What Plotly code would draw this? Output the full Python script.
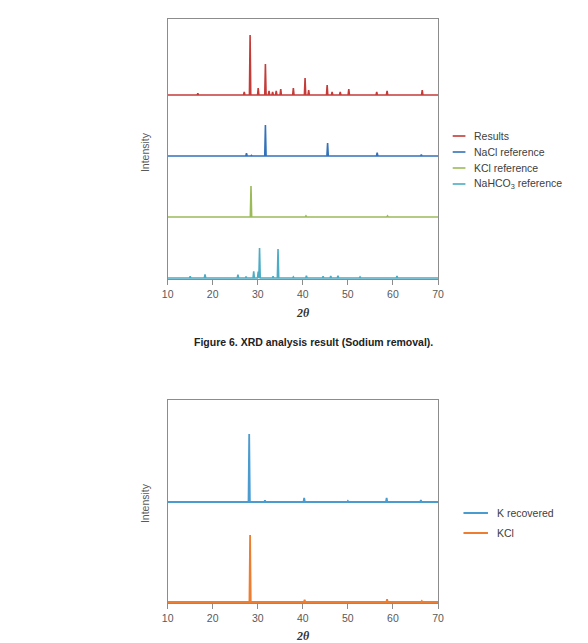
import plotly.graph_objects as go

# ---------------- data ----------------
# Top panel: peak positions (2θ, degrees) and peak heights (arbitrary intensity units)
results_2theta = [16.7, 27.0, 28.3, 30.1, 31.7, 32.5, 33.3, 34.1, 35.1, 37.9, 40.5, 41.3, 45.4, 46.5, 48.3, 50.2, 56.4, 58.7, 66.5]
results_int    = [1.7, 3.0, 60.0, 7.0, 31.0, 4.0, 3.0, 4.0, 6.0, 7.0, 17.0, 5.0, 10.0, 3.0, 3.0, 6.0, 3.0, 4.0, 5.0]

nacl_2theta = [27.5, 28.6, 31.7, 45.5, 56.5, 66.3]
nacl_int    = [2.7, 0.7, 31.0, 13.0, 3.3, 1.3]

kcl_ref_2theta = [28.5, 40.7, 58.8]
kcl_ref_int    = [31.0, 1.0, 1.0]

nahco3_2theta = [15.0, 18.3, 25.6, 27.4, 29.1, 30.1, 30.4, 33.4, 34.5, 37.9, 40.8, 44.5, 46.2, 47.8, 52.7, 60.9]
nahco3_int    = [1.7, 3.7, 3.3, 1.3, 6.7, 6.3, 30.0, 1.7, 29.0, 1.0, 2.3, 1.7, 2.0, 2.3, 1.0, 2.0]

# Bottom panel
krec_2theta = [28.1, 31.6, 40.3, 50.0, 58.6, 66.2]
krec_int    = [68.0, 1.7, 4.0, 1.0, 4.0, 2.0]

kcl_2theta = [28.3, 40.4, 58.7, 66.4]
kcl_int    = [67.0, 2.3, 2.7, 1.0]

x_ticks = [10, 20, 30, 40, 50, 60, 70]

top_names = ["Results", "NaCl reference", "KCl reference", "NaHCO<sub>3</sub> reference"]
bottom_names = ["K recovered", "KCl"]

# ---------------- styling ----------------
top_colors = ["#C43B38", "#3272BA", "#9BBB59", "#4BACC6"]
bottom_colors = ["#4A9BD0", "#ED7D31"]
top_offsets = [184, 123, 62, 1]      # vertical stacking of patterns
bottom_offsets = [101, 1]
HALF_W = 0.15                        # half width of a diffraction peak (deg)

FONT = "Liberation Sans, Arial, sans-serif"
TXT = "#595959"
FRAME = "#8C8C8C"


def profile(pos, inten, offset):
    xs, ys = [10.0], [offset]
    for p, h in sorted(zip(pos, inten)):
        xs += [p - HALF_W, p, p + HALF_W]
        ys += [offset, offset + h, offset]
    xs.append(70.0)
    ys.append(offset)
    return xs, ys


fig = go.Figure()

top_series = [(results_2theta, results_int), (nacl_2theta, nacl_int),
              (kcl_ref_2theta, kcl_ref_int), (nahco3_2theta, nahco3_int)]
for (pos, inten), name, col, off in zip(top_series, top_names, top_colors, top_offsets):
    xs, ys = profile(pos, inten, off)
    fig.add_trace(go.Scatter(x=xs, y=ys, mode="lines", name=name,
                             line=dict(color=col, width=1.6),
                             xaxis="x", yaxis="y", showlegend=False))

bottom_series = [(krec_2theta, krec_int), (kcl_2theta, kcl_int)]
for (pos, inten), name, col, off in zip(bottom_series, bottom_names, bottom_colors, bottom_offsets):
    xs, ys = profile(pos, inten, off)
    fig.add_trace(go.Scatter(x=xs, y=ys, mode="lines", name=name,
                             line=dict(color=col, width=1.8),
                             xaxis="x2", yaxis="y2", showlegend=False))

W, H = 588, 643


def px(x):
    return x / W


def py(y):
    return 1 - y / H


xdom = [px(165), px(441)]
xaxis_common = dict(range=[10, 70], tickvals=x_ticks, ticks="outside", ticklen=5,
                    tickcolor=FRAME, showline=True, linecolor=FRAME, linewidth=1,
                    mirror=True, showgrid=False, zeroline=False,
                    tickfont=dict(family=FONT, size=10.5, color=TXT))
yaxis_common = dict(showline=True, linecolor=FRAME, linewidth=1, mirror=True,
                    showgrid=False, zeroline=False, showticklabels=False, ticks="")

fig.update_layout(
    width=W, height=H, margin=dict(l=0, r=0, t=0, b=0),
    paper_bgcolor="white", plot_bgcolor="white", showlegend=False,
    xaxis=dict(domain=xdom, anchor="y", **xaxis_common),
    yaxis=dict(domain=[py(279), py(19)], range=[0, 260], anchor="x", **yaxis_common),
    xaxis2=dict(domain=xdom, anchor="y2", **xaxis_common),
    yaxis2=dict(domain=[py(603), py(400)], range=[0, 203], anchor="x2", **yaxis_common),
)

shapes = []
annotations = []

# manual legends
for i, (name, col) in enumerate(zip(top_names, top_colors)):
    yy = 136 + i * 16
    shapes.append(dict(type="line", xref="paper", yref="paper",
                       x0=px(456), x1=px(469), y0=py(yy), y1=py(yy),
                       line=dict(color=col, width=1.6)))
    annotations.append(dict(text=name, xref="paper", yref="paper", x=px(475.5), y=py(yy),
                            xanchor="left", yanchor="middle", showarrow=False,
                            font=dict(family=FONT, size=10.5, color="#404040")))
for i, (name, col) in enumerate(zip(bottom_names, bottom_colors)):
    yy = 513 + i * 20
    shapes.append(dict(type="line", xref="paper", yref="paper",
                       x0=px(467), x1=px(492), y0=py(yy), y1=py(yy),
                       line=dict(color=col, width=2)))
    annotations.append(dict(text=name, xref="paper", yref="paper", x=px(499), y=py(yy),
                            xanchor="left", yanchor="middle", showarrow=False,
                            font=dict(family=FONT, size=10.5, color="#404040")))

# axis titles
for yy in (152, 503):
    annotations.append(dict(text="Intensity", xref="paper", yref="paper", x=px(142), y=py(yy),
                            textangle=-90, showarrow=False, xanchor="center", yanchor="middle",
                            font=dict(family=FONT, size=10.5, color=TXT)))
for yy in (313, 636):
    annotations.append(dict(text="2θ", xref="paper", yref="paper", x=px(303), y=py(yy),
                            showarrow=False, xanchor="center", yanchor="middle",
                            font=dict(family="Liberation Serif, DejaVu Serif, serif", size=12,
                                      color="#333333", weight="bold", style="italic")))

# caption
annotations.append(dict(text="Figure 6. XRD analysis result (Sodium removal).",
                        xref="paper", yref="paper", x=px(314), y=py(342),
                        showarrow=False, xanchor="center", yanchor="middle",
                        font=dict(family=FONT, size=10.5, color="#222222", weight="bold")))

fig.update_layout(shapes=shapes, annotations=annotations)

fig.write_html("out.html")
